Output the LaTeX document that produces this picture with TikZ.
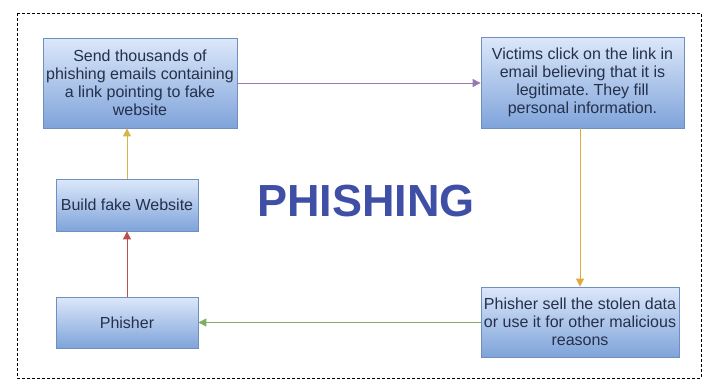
\documentclass[tikz,border=0pt]{standalone}
\usepackage{fontspec}
\setmainfont{Liberation Sans}
\usetikzlibrary{arrows.meta}
\frenchspacing
\definecolor{boxtop}{HTML}{DCE8FA}
\definecolor{boxbot}{HTML}{7FA3DA}
\definecolor{boxline}{HTML}{6F8FBF}
\definecolor{boxtext}{HTML}{25304A}
\definecolor{titleblue}{HTML}{3F4FA6}
\definecolor{purplearr}{HTML}{9C78B0}
\definecolor{goldarr}{HTML}{E3A93A}
\definecolor{greenarr}{HTML}{7FAF62}
\definecolor{redarr}{HTML}{B8504C}
\definecolor{yellowarr}{HTML}{D9B44A}
\begin{document}
\begin{tikzpicture}[x=1pt,y=-1pt,
  stepbox/.style={draw=boxline,line width=0.8pt,top color=boxtop,bottom color=boxbot,
    inner sep=0pt,align=center,text=boxtext,
    font=\fontsize{16}{18}\selectfont},
  conn/.style={line width=0.9pt,-{Triangle[length=8pt,width=8pt]}}]
\useasboundingbox (0,0) rectangle (705,383);
\fill[white] (0,0) rectangle (705,383);
\draw[dash pattern=on 3pt off 2pt,line width=0.7pt] (17,13) rectangle (701,378);
\node[stepbox,minimum width=194pt,minimum height=90pt] (send) at (140,83)
  {Send thousands of\\phishing emails containing\\a link pointing to fake\\website};
\node[stepbox,minimum width=203pt,minimum height=91pt] (victims) at (582.5,82.5)
  {Victims click on the link in\\email believing that it is\\legitimate. They fill\\personal information.};
\node[stepbox,minimum width=142pt,minimum height=52pt] (build) at (127,205)
  {Build fake Website};
\node[stepbox,minimum width=142pt,minimum height=51pt] (phisher) at (127,322.5)
  {Phisher};
\node[stepbox,minimum width=198pt,minimum height=70pt] (sell) at (580,322)
  {Phisher sell the stolen data\\or use it for other malicious\\reasons};
\node[text=titleblue,font=\bfseries\fontsize{45}{45}\selectfont] (title) at (366,201) {PHISHING};
\draw[conn,purplearr] (send.east) -- (victims.west |- send.east);
\draw[conn,goldarr] (victims.south -| sell.north) -- (sell.north);
\draw[conn,greenarr] (sell.west |- phisher.east) -- (phisher.east);
\draw[conn,redarr] (phisher.north) -- (build.south);
\draw[conn,yellowarr] (build.north) -- (build.north |- send.south);
\end{tikzpicture}
\end{document}
